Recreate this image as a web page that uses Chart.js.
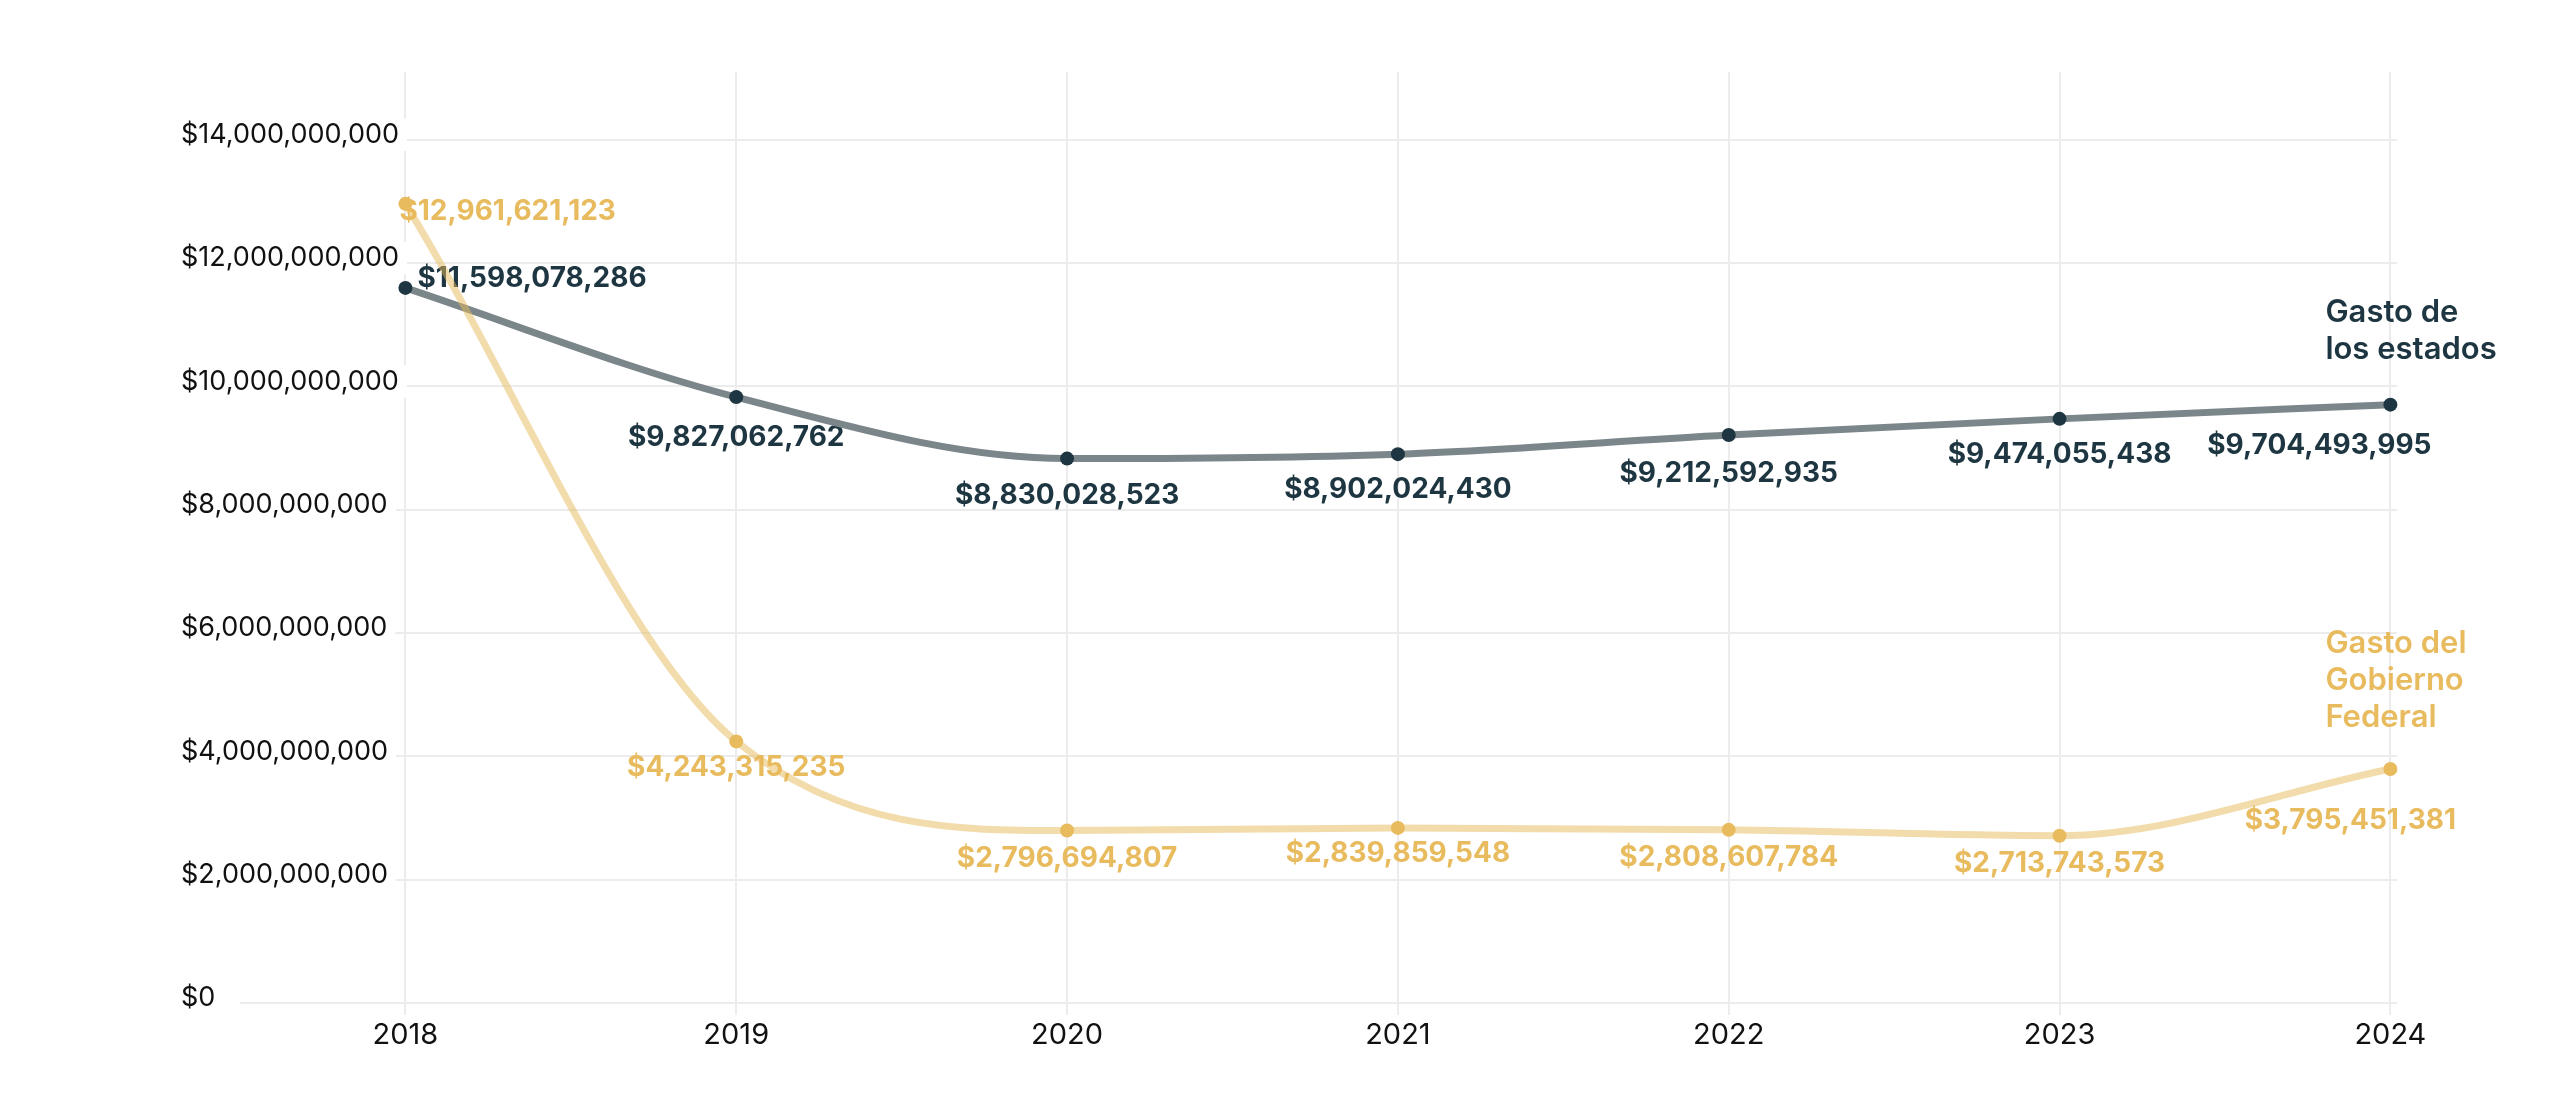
<!DOCTYPE html>
<html>
<head>
<meta charset="utf-8">
<script src="https://cdn.jsdelivr.net/npm/chart.js@4.4.1/dist/chart.umd.min.js"></script>
<style>
  html, body { margin: 0; padding: 0; background: #fff; }
  #wrap { position: relative; width: 2560px; height: 1110px; }
</style>
</head>
<body>
<div id="wrap"><canvas id="gasto"></canvas></div>
<script>
// data
var years = [2018, 2019, 2020, 2021, 2022, 2023, 2024];
var gastoEstados = [11598078286, 9827062762, 8830028523, 8902024430, 9212592935, 9474055438, 9704493995];
var gastoFederal = [12961621123, 4243315235, 2796694807, 2839859548, 2808607784, 2713743573, 3795451381];
var yTicks = [0, 2e9, 4e9, 6e9, 8e9, 10e9, 12e9, 14e9];
var nameEstados = ['Gasto de', 'los estados'];
var nameFederal = ['Gasto del', 'Gobierno', 'Federal'];

var NAVY = '#1e3641';
var GOLD = '#e8bb5e';
var GRID = '#ececec';

function money(v) {
    return '$' + Math.round(v).toLocaleString('en-US');
}

// label placement per point: [dx, dy, align]
var labelPos = {
    estados: [[12, -9, 'left'], [0, 40, 'center'], [0, 37, 'center'], [0, 35, 'center'], [0, 39, 'center'], [0, 36, 'center'], [-71, 41, 'center']],
    federal: [[-6, 8, 'left'], [0, 26, 'center'], [0, 28, 'center'], [0, 26, 'center'], [0, 28, 'center'], [0, 28, 'center'], [-40, 52, 'center']]
};

var valueLabels = {
    id: 'valueLabels',
    beforeDatasetsDraw: function(chart) {
        var ctx = chart.ctx;
        chart.data.datasets.forEach(function(ds, di) {
            var meta = chart.getDatasetMeta(di);
            var pos = labelPos[ds.key];
            ctx.save();
            ctx.font = '700 28px Inter';
            ctx.fillStyle = ds.textColor;
            ctx.textBaseline = 'middle';
            meta.data.forEach(function(pt, i) {
                var p = pos[i];
                ctx.textAlign = p[2];
                ctx.fillText(money(ds.data[i].y), pt.x + p[0], pt.y + p[1]);
            });
            // series name next to the last point
            var last = meta.data[meta.data.length - 1];
            ctx.font = '600 31px Inter';
            ctx.textAlign = 'left';
            ds.seriesName.forEach(function(line, k) {
                ctx.fillText(line, last.x - 65, last.y + ds.nameTop + k * 37);
            });
            ctx.restore();
        });
    }
};

try {
    var ctx = document.getElementById('gasto');
    var chart = new Chart(ctx, {
        type: 'line',
        data: {
            datasets: [
                {
                    key: 'federal',
                    label: 'Gasto del Gobierno Federal',
                    data: years.map(function(y, i) { return {x: y, y: gastoFederal[i]}; }),
                    borderColor: 'rgba(232, 185, 90, 0.5)',
                    borderWidth: 7,
                    pointRadius: 7,
                    pointBorderWidth: 0,
                    pointBackgroundColor: GOLD,
                    cubicInterpolationMode: 'monotone',
                    clip: false,
                    textColor: GOLD,
                    seriesName: nameFederal,
                    nameTop: -125
                },
                {
                    key: 'estados',
                    label: 'Gasto de los estados',
                    data: years.map(function(y, i) { return {x: y, y: gastoEstados[i]}; }),
                    borderColor: '#7b868b',
                    borderWidth: 7,
                    pointRadius: 7,
                    pointBorderWidth: 0,
                    pointBackgroundColor: NAVY,
                    cubicInterpolationMode: 'monotone',
                    clip: false,
                    textColor: NAVY,
                    seriesName: nameEstados,
                    nameTop: -92
                }
            ]
        },
        options: {
            responsive: true,
            maintainAspectRatio: false,
            animation: false,
            layout: { padding: { left: 181, right: 163, top: 72, bottom: 0 } },
            plugins: {
                legend: { display: false },
                tooltip: { enabled: false }
            },
            scales: {
                x: {
                    type: 'linear',
                    min: 2017.5,
                    max: 2024.02,
                    afterBuildTicks: function(s) {
                        s.ticks = years.map(function(v) { return {value: v}; });
                    },
                    afterFit: function(s) { s.height = 107; },
                    grid: { color: GRID, lineWidth: 2, tickLength: 12 },
                    border: { display: false },
                    ticks: {
                        autoSkip: false,
                        maxRotation: 0,
                        padding: 3,
                        color: '#111',
                        font: { family: 'Inter', size: 29 },
                        callback: function(v) { return String(v); }
                    }
                },
                y: {
                    min: 0,
                    max: 15.1e9,
                    afterBuildTicks: function(s) {
                        s.ticks = yTicks.map(function(v) { return {value: v}; });
                    },
                    afterFit: function(s) { s.width = 59; },
                    grid: { color: GRID, lineWidth: 2, drawTicks: false },
                    border: { display: false },
                    ticks: {
                        mirror: true,
                        crossAlign: 'near',
                        padding: -59,
                        labelOffset: -5,
                        color: '#111',
                        font: { family: 'Inter', size: 27 },
                        showLabelBackdrop: true,
                        backdropColor: '#fff',
                        backdropPadding: { left: 0, right: 8, top: 0, bottom: 0 },
                        callback: function(v) { return money(v); }
                    }
                }
            }
        },
        plugins: [valueLabels]
    });
} catch (error) {
    console.log(error);
}
</script>
</body>
</html>
